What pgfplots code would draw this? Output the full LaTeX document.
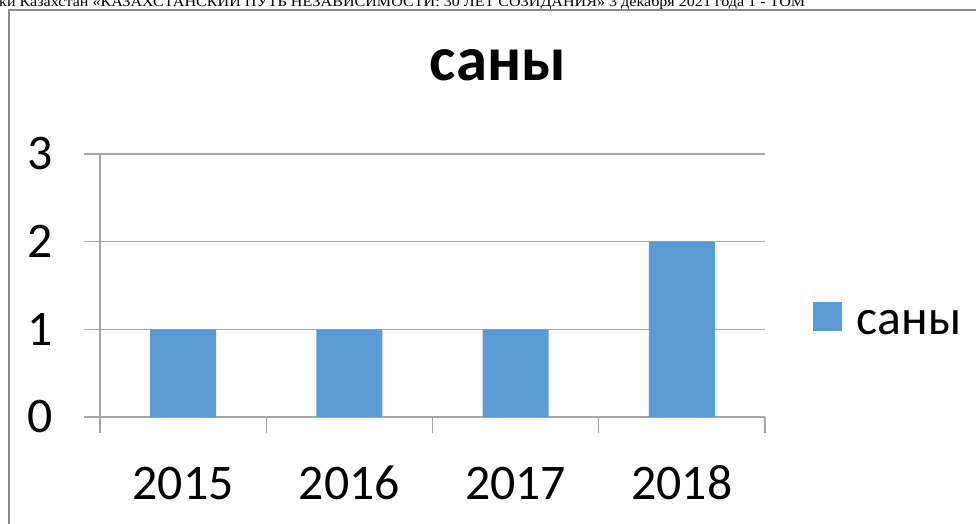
\documentclass[border=0pt]{standalone}
\usepackage{graphicx}
\usepackage{fontspec}
\setmainfont{Carlito}
\newfontfamily\headfont{Liberation Serif}
\usepackage{pgfplots}
\pgfplotsset{compat=1.18}
\definecolor{barblue}{RGB}{91,155,213}
\definecolor{gridgray}{RGB}{166,166,166}
\definecolor{framegray}{RGB}{140,140,140}
\begin{document}
\begin{tikzpicture}[x=1bp,y=1bp]
\useasboundingbox (0,0) rectangle (976,524);
% header line of the page (cut at top)
\node[anchor=base west, inner sep=0pt] at (-1,517.5) {\resizebox{806bp}{\height}{\headfont\fontsize{14.5}{14.5}\selectfont ки Казахстан «КАЗАХСТАНСКИЙ ПУТЬ НЕЗАВИСИМОСТИ: 30 ЛЕТ СОЗИДАНИЯ» 3 декабря 2021 года 1 - ТОМ}};
% chart frame
\draw[framegray, line width=1.5bp] (9,-5) -- (9,514) -- (985,514);
\begin{axis}[
  at={(100bp,107bp)}, anchor=south west,
  scale only axis, width=665bp, height=263bp,
  xmin=-0.5, xmax=3.5, ymin=0, ymax=3,
  axis x line*=bottom, axis y line*=left,
  axis line style={-, draw=gridgray, line width=1.3bp},
  ytick={0,1,2,3},
  ymajorgrids, grid style={draw=gridgray, line width=1.3bp},
  xtick={-0.5,0.5,1.5,2.5,3.5}, xticklabels={},
  extra x ticks={0,1,2,3},
  extra x tick labels={2015,2016,2017,2018},
  extra x tick style={major tick length=0pt, grid=none,
    xticklabel style={anchor=base, yshift=-83bp}},
  tick align=outside, major tick length=16bp,
  tick style={draw=gridgray, line width=1.3bp},
  /pgf/number format/assume math mode=true,
  tick label style={font=\fontsize{50}{50}\selectfont},
  yticklabel style={xshift=-28bp},
  ybar, bar width=66bp,
  title={саны},
  title style={font=\fontsize{63}{63}\selectfont\bfseries, at={(axis description cs:0.5985,1.2548)}, anchor=base},
  legend style={draw=none, fill=none, at={(axis description cs:1.0715,0.371)}, anchor=west,
    inner sep=0pt, nodes={inner sep=0pt}, font=\fontsize{50}{50}\selectfont},
  legend image code/.code={\fill[#1] (0bp,-8bp) rectangle (29bp,21bp); \path (44bp,0bp);},
]
\addplot[fill=barblue, draw=none] coordinates {(0,1) (1,1) (2,1) (3,2)};
\addlegendentry{саны}
\end{axis}
\end{tikzpicture}
\end{document}
